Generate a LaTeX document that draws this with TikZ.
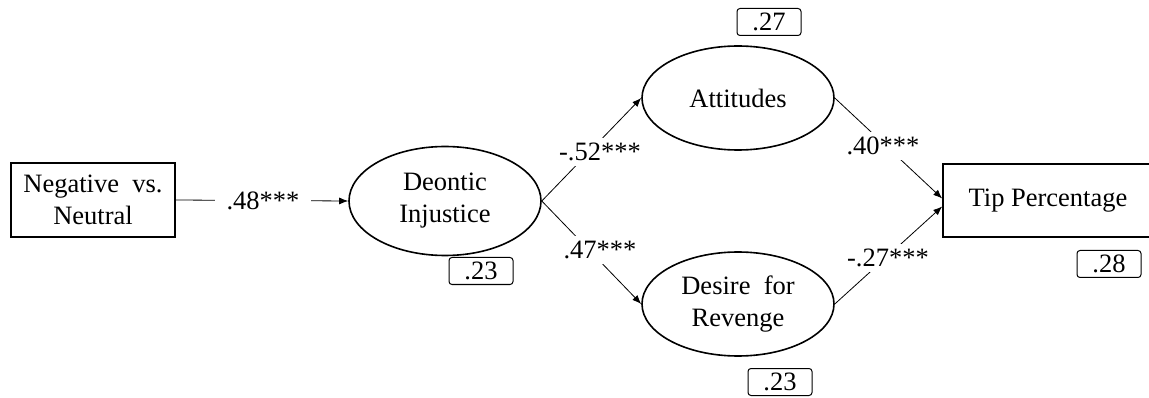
\documentclass[tikz,border=0pt]{standalone}
\usepackage{fontspec}
\setmainfont{Liberation Serif}
\usetikzlibrary{shapes.geometric,arrows.meta}
\begin{document}
\begin{tikzpicture}[x=1pt,y=-1pt,
  every node/.style={font=\fontsize{26.5}{32}\selectfont},
  obs/.style={draw,line width=1.6pt,rectangle,inner sep=0pt,align=center},
  lat/.style={draw,line width=1.6pt,ellipse,minimum width=192pt,minimum height=106pt,inner sep=0pt,align=center},
  rsq/.style={draw,line width=1pt,rounded corners=3pt,minimum width=64pt,minimum height=27pt,inner sep=0pt},
  conn/.style={line width=0.8pt},
  arr/.style={conn,-{Latex[length=9pt,width=7pt]}},
  lab/.style={fill=white,inner xsep=12pt,inner ysep=5pt}
]
\clip (0,0) rectangle (1149,398);
\node[obs,minimum width=164pt,minimum height=74pt] (neg) at (93,200) {Negative\ \ vs.\\Neutral};
\node[lat,minimum height=109pt] (deo) at (445,201) {Deontic\\Injustice};
\node[lat,minimum height=104pt] (att) at (738,98) {Attitudes};
\node[lat,minimum height=104pt] (des) at (738,304) {Desire\ \ for\\Revenge};
\node[obs,minimum width=218pt,minimum height=73pt] (tip) at (1052,200.5) {Tip Percentage\hspace*{8pt}};
\node[rsq] (rdeo) at (481,271) {.23};
\node[rsq] (ratt) at (769,22) {.27};
\node[rsq] (rdes) at (780,382) {.23};
\node[rsq] (rtip) at (1109,264) {.28};
\draw[arr] (neg.east) -- (deo.west);
\node[lab] (l1) at (263,201) {.48***};
\draw[arr] (deo.east) -- (att.west);
\node[lab] (l2) at (600,152) {-.52***};
\draw[arr] (deo.east) -- (des.west);
\node[lab] (l3) at (600,250) {.47***};
\draw[arr] (att.east) -- ([yshift=2pt]tip.west);
\node[lab] (l4) at (883,146) {.40***};
\draw[arr] (des.east) -- ([yshift=-6pt]tip.west);
\node[lab] (l5) at (888,258) {-.27***};
\end{tikzpicture}
\end{document}
